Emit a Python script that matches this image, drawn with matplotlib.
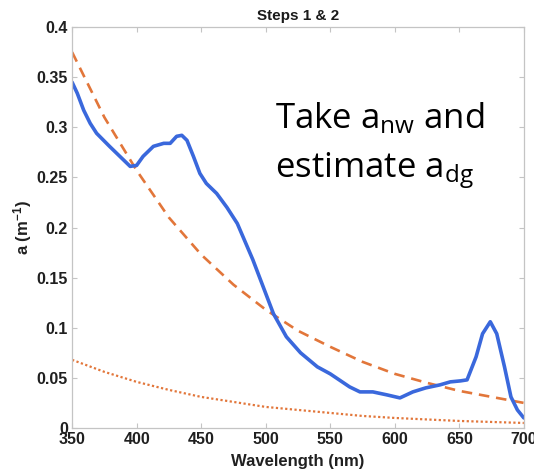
import matplotlib
matplotlib.use("Agg")
import matplotlib.pyplot as plt

# measured total absorption (blue)
wl_meas = [350, 354, 359, 364, 369, 379, 387, 395, 400, 405, 413, 421, 426, 431,
           435, 439, 444, 449, 454, 462, 470, 478, 490, 498, 506, 516, 527, 540,
           550, 565, 573, 583, 594, 604, 614, 624, 635, 643, 651, 656, 663, 668,
           674, 679, 685, 690, 695, 700]
a_meas = [0.345, 0.334, 0.317, 0.304, 0.294, 0.281, 0.271, 0.261, 0.262, 0.271,
          0.281, 0.284, 0.284, 0.291, 0.292, 0.287, 0.271, 0.254, 0.244, 0.234,
          0.220, 0.204, 0.168, 0.141, 0.114, 0.091, 0.075, 0.061, 0.054, 0.041,
          0.036, 0.036, 0.033, 0.030, 0.036, 0.040, 0.043, 0.046, 0.047, 0.048,
          0.071, 0.094, 0.106, 0.094, 0.061, 0.031, 0.018, 0.010]

# estimated a_dg (dashed) and second estimate (dotted)
wl_fit = [350, 375, 400, 425, 450, 475, 500, 525, 550, 575, 600, 625, 650, 675, 700]
a_dg = [0.375, 0.310, 0.257, 0.210, 0.173, 0.143, 0.118, 0.097, 0.081, 0.066,
        0.054, 0.045, 0.037, 0.031, 0.025]
a_low = [0.068, 0.056, 0.046, 0.038, 0.031, 0.026, 0.021, 0.018, 0.015, 0.012,
         0.010, 0.0085, 0.007, 0.006, 0.005]

xticks = [350, 400, 450, 500, 550, 600, 650, 700]
yticks = [0, 0.05, 0.1, 0.15, 0.2, 0.25, 0.3, 0.35, 0.4]

plt.rcParams["font.family"] = ["Liberation Sans", "DejaVu Sans"]
plt.rcParams["mathtext.default"] = "regular"

fig = plt.figure(figsize=(5.34, 4.75), dpi=100)
ax = fig.add_axes([0.135, 0.099, 0.846, 0.844])

blue = "#3a68dc"
orange = "#e2763a"

ax.plot(wl_fit, a_low, color=orange, lw=1.6, linestyle=(0, (1, 1.1)))
ax.plot(wl_fit, a_dg, color=orange, lw=1.9, linestyle=(0, (4, 2.6)))
ax.plot(wl_meas, a_meas, color=blue, lw=2.6, solid_capstyle="round")

ax.set_xlim(350, 700)
ax.set_ylim(0, 0.4)
ax.set_xticks(xticks)
ax.set_yticks(yticks)
ax.set_xticklabels([str(t) for t in xticks])
ax.set_yticklabels(["0", "0.05", "0.1", "0.15", "0.2", "0.25", "0.3", "0.35", "0.4"])

for s in ax.spines.values():
    s.set_color("#c4c4c4")
    s.set_linewidth(0.9)
ax.tick_params(direction="in", length=3.5, width=0.8, color="#c4c4c4",
               top=True, right=True, labelsize=11.5, labelcolor="#202020", pad=3)
for lab in ax.get_xticklabels() + ax.get_yticklabels():
    lab.set_fontweight("bold")

ax.set_title("Steps 1 & 2", fontsize=11, fontweight="bold", color="#1a1a1a", pad=5)
ax.set_xlabel("Wavelength (nm)", fontsize=12, fontweight="bold",
              color="#202020", labelpad=5)
ax.set_ylabel(r"a (m$^{-1}$)", fontsize=12, fontweight="bold",
              color="#202020", labelpad=2)

note_kw = dict(fontsize=25, family=["Open Sans", "DejaVu Sans"], color="black",
               va="baseline", ha="left")
ax.text(507, 0.299, r"Take a$_{nw}$ and", **note_kw)
ax.text(507, 0.249, r"estimate a$_{dg}$", **note_kw)

fig.savefig("out.png", dpi=100)
